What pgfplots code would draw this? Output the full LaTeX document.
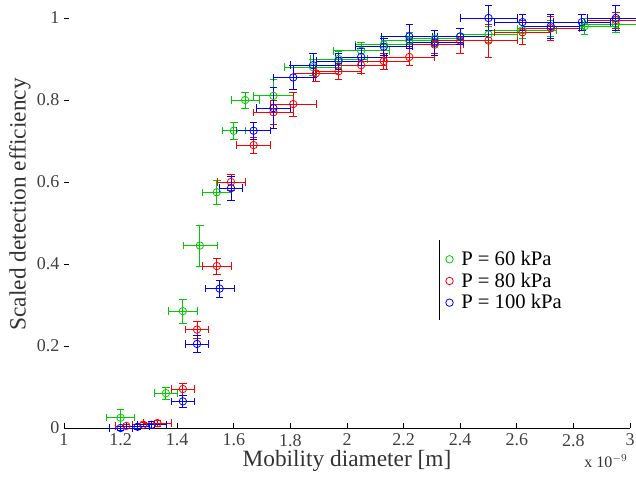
\documentclass[border=0pt]{standalone}
\usepackage{pgfplots}
\usepackage{pgfplotstable}
\pgfplotsset{compat=1.18}
\usepackage{fontspec}
\setmainfont{Liberation Serif}
\pgfplotstableread{
x y xe ye
1.20 0.025 0.05 0.02
1.36 0.085 0.04 0.015
1.42 0.285 0.05 0.03
1.48 0.445 0.06 0.05
1.54 0.575 0.05 0.03
1.60 0.725 0.04 0.02
1.64 0.800 0.05 0.02
1.74 0.810 0.07 0.04
1.88 0.880 0.10 0.02
1.97 0.900 0.10 0.02
2.05 0.920 0.10 0.02
2.13 0.935 0.10 0.02
2.22 0.945 0.10 0.02
2.31 0.950 0.10 0.02
2.40 0.955 0.10 0.02
2.50 0.960 0.10 0.02
2.62 0.970 0.12 0.02
2.72 0.975 0.12 0.02
2.84 0.980 0.12 0.02
2.95 0.985 0.12 0.02
}\greentab
\pgfplotstableread{
x y xe ye
1.22 0.005 0.04 0.005
1.28 0.008 0.04 0.005
1.33 0.012 0.05 0.008
1.42 0.095 0.04 0.015
1.47 0.240 0.04 0.02
1.54 0.395 0.05 0.02
1.59 0.600 0.05 0.02
1.67 0.690 0.06 0.02
1.74 0.770 0.07 0.03
1.81 0.790 0.08 0.03
1.89 0.865 0.08 0.02
1.97 0.870 0.08 0.02
2.05 0.885 0.09 0.02
2.13 0.895 0.09 0.02
2.22 0.905 0.09 0.02
2.31 0.935 0.10 0.02
2.40 0.945 0.10 0.03
2.50 0.945 0.10 0.04
2.62 0.965 0.10 0.03
2.72 0.975 0.10 0.03
2.95 0.995 0.10 0.02
}\redtab
\pgfplotstableread{
x y xe ye
1.20 0.000 0.04 0.005
1.26 0.003 0.04 0.005
1.31 0.008 0.05 0.008
1.42 0.065 0.04 0.015
1.47 0.205 0.04 0.02
1.55 0.340 0.05 0.02
1.59 0.585 0.04 0.03
1.67 0.725 0.06 0.02
1.74 0.780 0.06 0.05
1.81 0.855 0.07 0.03
1.88 0.885 0.08 0.03
1.97 0.895 0.08 0.02
2.05 0.905 0.09 0.02
2.13 0.930 0.10 0.02
2.22 0.955 0.10 0.03
2.31 0.940 0.10 0.03
2.40 0.955 0.10 0.02
2.50 1.000 0.10 0.03
2.62 0.990 0.10 0.02
2.72 0.980 0.10 0.03
2.83 0.990 0.10 0.02
2.95 1.000 0.10 0.03
}\bluetab
\begin{document}
\begin{tikzpicture}
\begin{axis}[
  scale only axis,
  width=424.5pt, height=307.5pt,
  xmin=1, xmax=3, ymin=0, ymax=1,
  axis x line*=bottom, axis y line*=left,
  y axis line style={draw=none},
  x axis line style={-},
  xtick={1,1.2,...,3},
  xticklabels={1,1.2,1.4,1.6,1.8,2,2.2,2.4,2.6,2.8,3},
  ytick={0,0.2,...,1},
  yticklabels={0,0.2,0.4,0.6,0.8,1},
  tick align=inside,
  major tick length=4pt,
  tick style={black, line width=0.5pt},
  /pgf/number format/assume math mode=true,
  ticklabel style={font=\rmfamily\fontsize{13.5}{15}\selectfont, color=black!75},
  xticklabel style={yshift=-1pt},
  xlabel={Mobility diameter [m]},
  ylabel={Scaled detection efficiency},
  label style={font=\rmfamily\fontsize{17.5}{19}\selectfont, color=black!80},
  xlabel style={at={(axis description cs:0.5,0)}, anchor=center, yshift=-25pt},
  ylabel style={at={(axis description cs:0,0.5)}, anchor=center, yshift=33pt, xshift=14pt},
  legend style={draw=none, fill=none, at={(rel axis cs:0.667,0.445)}, anchor=north west,
    font=\rmfamily\fontsize{15.5}{16}\selectfont, row sep=0pt, column sep=4pt},
  legend cell align=left,
  clip=false,
]
\addplot[only marks, mark=o, mark size=2.8pt, color=green!80!black, line width=0.6pt,
  error bars/.cd, x dir=both, x explicit, y dir=both, y explicit,
  error bar style={line width=0.6pt}]
  table[x=x, y=y, x error=xe, y error=ye]{\greentab};
\addlegendentry{P = 60 kPa}
\addplot[only marks, mark=o, mark size=2.8pt, color=red, line width=0.6pt,
  error bars/.cd, x dir=both, x explicit, y dir=both, y explicit,
  error bar style={line width=0.6pt}]
  table[x=x, y=y, x error=xe, y error=ye]{\redtab};
\addlegendentry{P = 80 kPa}
\addplot[only marks, mark=o, mark size=2.8pt, color=blue, line width=0.6pt,
  error bars/.cd, x dir=both, x explicit, y dir=both, y explicit,
  error bar style={line width=0.6pt}]
  table[x=x, y=y, x error=xe, y error=ye]{\bluetab};
\addlegendentry{P = 100 kPa}
\draw[black, line width=0.8pt] (rel axis cs:0.664,0.459) -- (rel axis cs:0.664,0.263);
\node[anchor=center, font=\rmfamily\fontsize{12}{13}\selectfont, color=black!80] at ([xshift=-18pt,yshift=-25pt]rel axis cs:1,0) {x 10$^{-9}$};
\end{axis}
\pgfresetboundingbox
\path (-48pt,-36.75pt) rectangle (429pt,321pt);
\end{tikzpicture}
\end{document}
